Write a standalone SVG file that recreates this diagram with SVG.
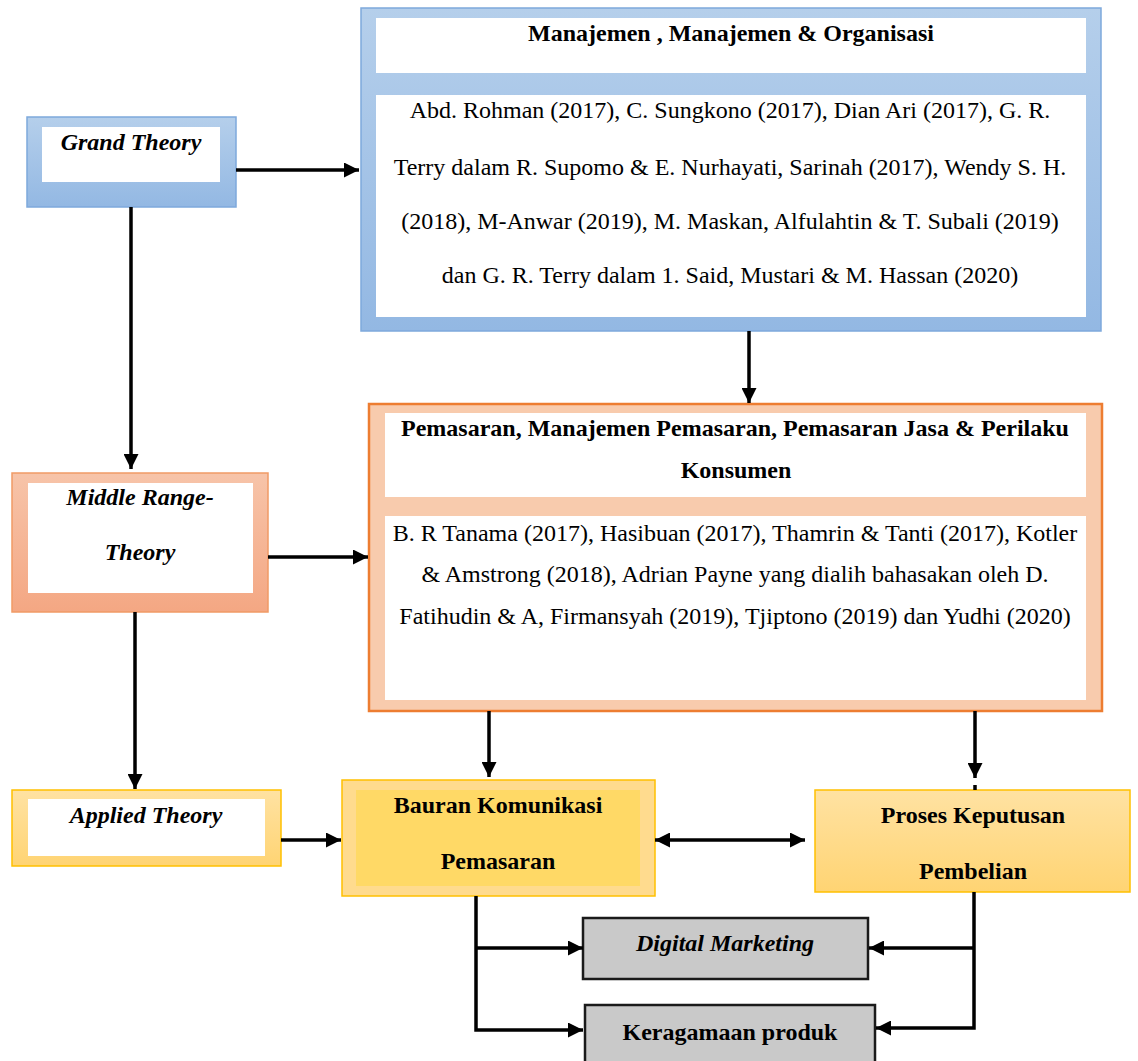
<svg xmlns="http://www.w3.org/2000/svg" width="1138" height="1061" viewBox="0 0 1138 1061">
<defs>
<linearGradient id="gBlue" x1="0" y1="0" x2="0" y2="1">
<stop offset="0" stop-color="#b5cfeb"/>
<stop offset="1" stop-color="#93b8e3"/>
</linearGradient>
<linearGradient id="gOrange" x1="0" y1="0" x2="0" y2="1">
<stop offset="0" stop-color="#f7c4a9"/>
<stop offset="1" stop-color="#f4a783"/>
</linearGradient>
<linearGradient id="gYellow" x1="0" y1="0" x2="0" y2="1">
<stop offset="0" stop-color="#ffe2a2"/>
<stop offset="1" stop-color="#ffd473"/>
</linearGradient>
<marker id="ah" markerUnits="userSpaceOnUse" markerWidth="15" markerHeight="15" refX="15" refY="7.5" orient="auto-start-reverse">
<path d="M0,0 L15,7.5 L0,15 z" fill="#000"/>
</marker>
</defs>
<style>
text{font-family:"Liberation Serif","Times New Roman",serif;font-size:24px;fill:#000;text-anchor:middle}
.b{font-weight:bold}
.bi{font-weight:bold;font-style:italic}
.i{font-style:italic}
.conn path{fill:none;stroke:#000;stroke-width:3.5}
.blue{fill:url(#gBlue);stroke:#7ea9dc;stroke-width:1.5}
.white{fill:#fff}
</style>
<rect width="1138" height="1061" fill="#fff"/>

<g id="grand-theory">
<rect class="blue" x="27" y="117" width="209" height="90"/>
<rect class="white" x="42" y="127" width="178" height="55"/>
<text class="bi" x="131" y="150">Grand Theory</text>
</g>

<g id="manajemen">
<rect class="blue" x="361" y="8" width="740" height="323"/>
<rect class="white" x="376" y="18" width="710" height="55"/>
<rect class="white" x="376" y="95" width="710" height="222"/>
<text class="b" x="731" y="41">Manajemen , Manajemen &amp; Organisasi</text>
<text x="730" y="118">Abd. Rohman (2017), C. Sungkono (2017), Dian Ari (2017), G. R.</text>
<text x="730" y="175">Terry dalam R. Supomo &amp; E. Nurhayati, Sarinah (2017), Wendy S. H.</text>
<text x="730" y="229">(2018), M-Anwar (2019), M. Maskan, Alfulahtin &amp; T. Subali (2019)</text>
<text x="730" y="283">dan G. R. Terry dalam 1. Said, Mustari &amp; M. Hassan (2020)</text>
</g>

<g id="middle-range">
<rect x="12" y="473" width="256" height="139" fill="url(#gOrange)" stroke="#f19a66" stroke-width="1.5"/>
<rect class="white" x="28" y="483" width="225" height="110"/>
<text class="bi" x="140" y="505">Middle Range-</text>
<text class="bi" x="140" y="560">Theory</text>
</g>

<g id="pemasaran">
<rect x="369" y="404" width="733" height="307" fill="#f8cbad" stroke="#ed7d31" stroke-width="2.5"/>
<rect class="white" x="385" y="413" width="701" height="84"/>
<rect class="white" x="385" y="516" width="701" height="184"/>
<text class="b" x="735" y="436">Pemasaran, Manajemen Pemasaran, Pemasaran Jasa &amp; Perilaku</text>
<text class="b" x="736" y="478">Konsumen</text>
<text x="735" y="541">B. R Tanama (2017), Hasibuan (2017), Thamrin &amp; Tanti (2017), Kotler</text>
<text x="735" y="582">&amp; Amstrong (2018), Adrian Payne yang dialih bahasakan oleh D.</text>
<text x="735" y="624">Fatihudin &amp; A, Firmansyah (2019), Tjiptono (2019) dan Yudhi (2020)</text>
</g>

<g id="applied-theory">
<rect x="12" y="790" width="269" height="76" fill="url(#gYellow)" stroke="#ffc000" stroke-width="1.5"/>
<rect class="white" x="28" y="799" width="237" height="57"/>
<text class="bi" x="146" y="823">Applied Theory</text>
</g>

<g id="bauran">
<rect x="342" y="780" width="313" height="116" fill="#ffdb8e" stroke="#ffc000" stroke-width="1.5"/>
<rect x="356" y="790" width="284" height="96" fill="#ffd966"/>
<text class="b" x="498" y="813">Bauran Komunikasi</text>
<text class="b" x="498" y="869">Pemasaran</text>
</g>

<g id="proses">
<rect x="815" y="790" width="315" height="102" fill="url(#gYellow)" stroke="#ffc000" stroke-width="1.5"/>
<text class="b" x="973" y="823">Proses Keputusan</text>
<text class="b" x="973" y="879">Pembelian</text>
</g>

<g id="digital-marketing">
<rect x="583" y="918" width="285" height="61" fill="#c9c9c9" stroke="#1a1a1a" stroke-width="2.5"/>
<text class="bi" x="725" y="951" textLength="178" lengthAdjust="spacingAndGlyphs">Digital Marketing</text>
</g>

<g id="keragamaan">
<rect x="585" y="1005" width="290" height="60" fill="#c9c9c9" stroke="#1a1a1a" stroke-width="2.5"/>
<text class="b" x="730" y="1040">Keragamaan produk</text>
</g>

<g id="connectors" class="conn">
<path d="M236,170 H359" marker-end="url(#ah)"/>
<path d="M131,207 V469" marker-end="url(#ah)"/>
<path d="M749,331 V403" marker-end="url(#ah)"/>
<path d="M268,557 H368" marker-end="url(#ah)"/>
<path d="M135,612 V789" marker-end="url(#ah)"/>
<path d="M281,840 H341" marker-end="url(#ah)"/>
<path d="M489,711 V777" marker-end="url(#ah)"/>
<path d="M975,711 V778" marker-end="url(#ah)"/>
<path d="M975,785 V790"/>
<path d="M655,840 H805" marker-start="url(#ah)" marker-end="url(#ah)"/>
<path d="M476,896 V1030 H583" marker-end="url(#ah)"/>
<path d="M476,948 H583" marker-end="url(#ah)"/>
<path d="M974,892 V1028 H876" marker-end="url(#ah)"/>
<path d="M974,948 H869" marker-end="url(#ah)"/>
</g>
</svg>
